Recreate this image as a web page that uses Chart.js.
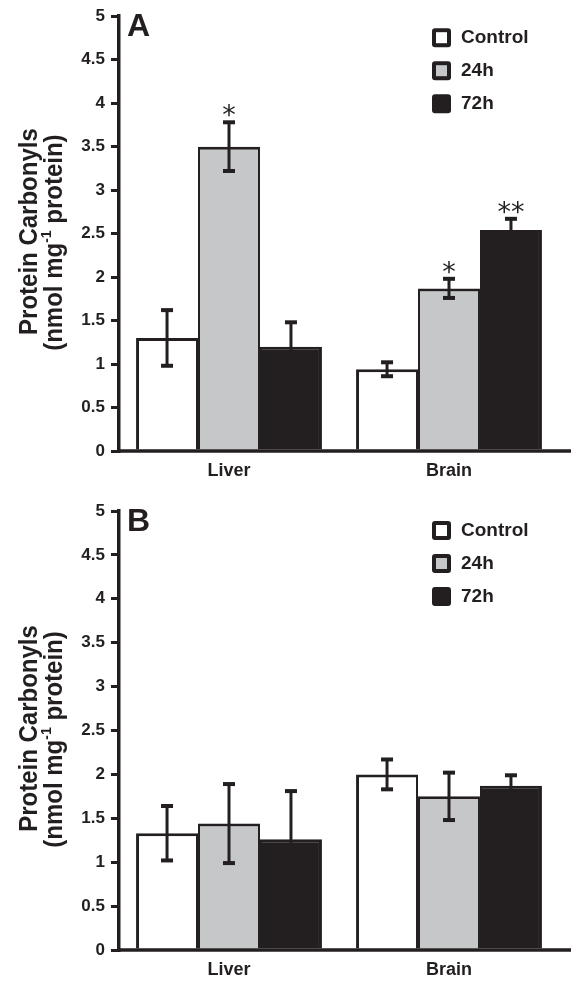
<!DOCTYPE html>
<html>
<head>
<meta charset="utf-8">
<script src="https://cdn.jsdelivr.net/npm/chart.js@4/dist/chart.umd.min.js"></script>
<style>
  body { margin: 0; background: #fff; }
  canvas { position: absolute; left: 0; }
  #panelA { top: 0; }
  #panelB { top: 490px; }
</style>
</head>
<body>
<canvas id="panelA" width="574" height="490"></canvas>
<canvas id="panelB" width="574" height="495"></canvas>
<script>
// data
const categories = ['Liver', 'Brain']
const seriesNames = ['Control', '24h', '72h']
const yTickLabels = ['0', '0.5', '1', '1.5', '2', '2.5', '3', '3.5', '4', '4.5', '5']

// panel A
const controlA = [1.30, 0.94]
const h24A = [3.50, 1.87]
const h72A = [1.20, 2.54]
const controlErrA = [0.32, 0.08]
const h24ErrA = [0.28, 0.11]
const h72ErrA = [0.28, 0.13]
const starsA = [['', ''], ['*', '*'], ['', '**']]

// panel B
const controlB = [1.33, 2.00]
const h24B = [1.44, 1.75]
const h72B = [1.26, 1.87]
const controlErrB = [0.31, 0.17]
const h24ErrB = [0.45, 0.27]
const h72ErrB = [0.55, 0.12]
const starsB = [['', ''], ['', ''], ['', '']]

const ink = '#231f20'
const fills = ['#ffffff', '#c6c7c9', '#231f20']
const sans = "'Liberation Sans', Arial, sans-serif"

// error bars, stars, panel letter, y title and legend
const decor = {
    id: 'decor',
    afterDatasetsDraw(chart, args, opts) {
        const ctx = chart.ctx
        const y = chart.scales.y
        const area = chart.chartArea
        ctx.save()
        ctx.fillStyle = ink
        ctx.strokeStyle = ink

        chart.data.datasets.forEach(function(ds, di){
            const meta = chart.getDatasetMeta(di)
            meta.data.forEach(function(bar, i){
                const v = ds.data[i]
                const e = opts.errors[di][i]
                const yt = y.getPixelForValue(v + e)
                const yb = y.getPixelForValue(v - e)
                ctx.lineWidth = 3
                ctx.beginPath()
                ctx.moveTo(bar.x, yt)
                ctx.lineTo(bar.x, yb)
                ctx.stroke()
                ctx.fillRect(bar.x - 6, yt - 2, 12, 4)
                ctx.fillRect(bar.x - 6, yb - 2, 12, 4)
                const star = opts.stars[di][i]
                if(star){
                    ctx.font = "27px 'DejaVu Sans'"
                    ctx.textAlign = 'center'
                    ctx.textBaseline = 'alphabetic'
                    ctx.fillText(star, bar.x, yt + 2)
                }
            })
        })

        // x axis, running a little past the plot
        ctx.lineWidth = 3.5
        ctx.beginPath()
        ctx.moveTo(area.left - 2, area.bottom)
        ctx.lineTo(571, area.bottom)
        ctx.stroke()

        // panel letter
        ctx.font = 'bold 32px ' + sans
        ctx.textAlign = 'left'
        ctx.textBaseline = 'alphabetic'
        ctx.fillText(opts.letter, area.left + 8, area.top + 20)

        // y title, two rotated lines (glyphs a bit wide, like the scan)
        const mid = (area.top + area.bottom) / 2
        ctx.save()
        ctx.translate(37, mid - 2)
        ctx.rotate(-Math.PI / 2)
        ctx.scale(1, 1.1)
        ctx.font = 'bold 24px ' + sans
        ctx.textAlign = 'center'
        ctx.fillText('Protein Carbonyls', 0, 0)
        ctx.restore()

        ctx.save()
        ctx.translate(62, mid + 9)
        ctx.rotate(-Math.PI / 2)
        ctx.scale(1, 1.1)
        const big = 'bold 24px ' + sans
        const small = 'bold 14px ' + sans
        ctx.font = big
        const w1 = ctx.measureText('(nmol mg').width
        const w3 = ctx.measureText(' protein)').width
        ctx.font = small
        const w2 = ctx.measureText('-1').width
        let x = -(w1 + w2 + w3) / 2
        ctx.textAlign = 'left'
        ctx.font = big
        ctx.fillText('(nmol mg', x, 0)
        x += w1
        ctx.font = small
        ctx.fillText('-1', x, -10)
        x += w2
        ctx.font = big
        ctx.fillText(' protein)', x, 0)
        ctx.restore()

        // legend
        chart.data.datasets.forEach(function(ds, di){
            const top = area.top + opts.legendTop + di * 33
            ctx.beginPath()
            ctx.roundRect(432, top, 19, 19, 3)
            ctx.fillStyle = ink
            ctx.fill()
            ctx.fillStyle = ds.backgroundColor
            ctx.fillRect(436, top + 4, 11, 11)
            ctx.fillStyle = ink
            ctx.font = 'bold 19px ' + sans
            ctx.textAlign = 'left'
            ctx.textBaseline = 'middle'
            ctx.fillText(ds.label, 461, top + 10)
        })
        ctx.restore()
    }
}

function makeDatasets(values){
    const widths = [
        {top: 3, left: 3, right: 2, bottom: 0},
        {top: 3, left: 2, right: 2, bottom: 0},
        {top: 3, left: 2, right: 3, bottom: 0}
    ]
    return values.map(function(v, i){
        return {
            label: seriesNames[i],
            data: v,
            backgroundColor: fills[i],
            borderColor: ink,
            borderWidth: widths[i],
            borderSkipped: false,
            categoryPercentage: 0.845,
            barPercentage: 1.0
        }
    })
}

function makeChart(id, values, errors, stars, letter, padTop, xHeight, legendTop){
    const config = {
        type: 'bar',
        data: {
            labels: categories,
            datasets: makeDatasets(values)
        },
        plugins: [decor],
        options: {
            responsive: false,
            animation: false,
            devicePixelRatio: 1,
            layout: {
                padding: {left: 0, right: 15, top: padTop, bottom: 0}
            },
            plugins: {
                legend: {display: false},
                tooltip: {enabled: false},
                decor: {
                    errors: errors,
                    stars: stars,
                    letter: letter,
                    legendTop: legendTop
                }
            },
            scales: {
                x: {
                    afterFit: function(s){ s.height = xHeight },
                    grid: {display: false, drawTicks: false},
                    border: {display: false},
                    ticks: {
                        color: ink,
                        padding: 9,
                        font: {family: sans, size: 18, weight: 'bold'}
                    }
                },
                y: {
                    min: 0,
                    max: 5,
                    afterFit: function(s){ s.width = 119 },
                    grid: {
                        display: true,
                        drawOnChartArea: false,
                        drawTicks: true,
                        tickLength: 8,
                        lineWidth: 3,
                        color: ink
                    },
                    border: {display: true, color: ink, width: 3.5},
                    ticks: {
                        stepSize: 0.5,
                        color: ink,
                        padding: 6,
                        font: {family: sans, size: 17, weight: 'bold'},
                        callback: function(value, index){
                            return yTickLabels[index]
                        }
                    }
                }
            }
        }
    }
    return new Chart(document.getElementById(id), config)
}

makeChart('panelA', [controlA, h24A, h72A], [controlErrA, h24ErrA, h72ErrA], starsA, 'A', 13, 39, 12)
makeChart('panelB', [controlB, h24B, h72B], [controlErrB, h24ErrB, h72ErrB], starsB, 'B', 21, 35, 10)
</script>
</body>
</html>
